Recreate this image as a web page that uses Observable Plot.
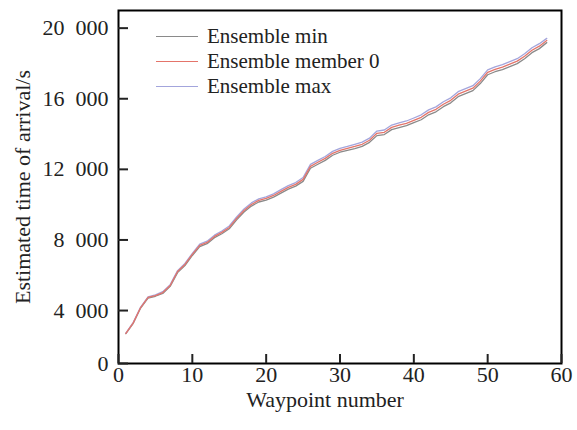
<!DOCTYPE html>
<html>
<head>
<meta charset="utf-8">
<script src="https://cdn.jsdelivr.net/npm/d3@7"></script>
<script src="https://cdn.jsdelivr.net/npm/@observablehq/plot@0.6"></script>
<style>
  html, body { margin: 0; padding: 0; background: #fff; }
  #wrap { position: relative; width: 577px; height: 430px; font-family: "Liberation Serif", serif; }
  #legend { position: absolute; left: 156px; top: 24px; font-size: 21px; color: #222; }
  #legend .row { display: flex; align-items: center; height: 25px; }
  #legend .sw { width: 42px; height: 0; border-top: 1.5px solid; margin-right: 9px; }
</style>
</head>
<body>
<div id="wrap"><div id="legend"></div></div>
<script>
// Waypoint index 1..58
const waypoints = d3.range(1, 59);

// Estimated time of arrival (s) per waypoint
const ensembleMin = [2690,3280,4140,4700,4810,4970,5370,6150,6550,7120,7620,7790,8130,8350,8630,9140,9580,9920,10150,10260,10430,10650,10880,11050,11320,12060,12290,12510,12800,12970,13080,13180,13300,13530,13910,13970,14250,14370,14480,14650,14810,15090,15260,15550,15770,16120,16290,16460,16860,17360,17530,17650,17820,17990,18270,18610,18840,19180];
const ensembleMember0 = [2700,3300,4170,4740,4850,5020,5420,6210,6610,7180,7690,7860,8200,8430,8710,9220,9670,10010,10240,10350,10520,10750,10980,11150,11430,12170,12400,12620,12910,13080,13190,13300,13420,13650,14040,14100,14380,14500,14610,14780,14950,15230,15400,15690,15910,16260,16430,16600,17000,17500,17670,17790,17960,18130,18410,18750,18980,19300];
const ensembleMax = [2720,3330,4200,4780,4890,5070,5470,6260,6670,7240,7760,7930,8270,8510,8790,9300,9760,10100,10330,10440,10610,10850,11080,11250,11540,12280,12510,12730,13020,13190,13300,13420,13540,13770,14170,14230,14510,14630,14740,14910,15090,15370,15540,15830,16050,16400,16570,16740,17140,17640,17810,17930,18100,18270,18550,18890,19120,19420];

const seriesNames = ["Ensemble min", "Ensemble member 0", "Ensemble max"];
const seriesColors = ["#8a8a8a", "#e4746a", "#a3a5dc"];
const seriesValues = [ensembleMin, ensembleMember0, ensembleMax];

const xTicks = [0, 10, 20, 30, 40, 50, 60];
const yTicks = [1000, 4000, 8000, 12000, 16000, 20000];
const yTickLabels = ["0", "4\u2002000", "8\u2002000", "12\u2002000", "16\u2002000", "20\u2002000"];
const xTitle = "Waypoint number";
const yTitle = "Estimated time of arrival/s";

const rows = seriesNames.flatMap((name, i) =>
  waypoints.map((w, j) => ({series: name, waypoint: w, eta: seriesValues[i][j]}))
);
// draw order: min, max, then member 0 on top
const drawOrder = [0, 2, 1];

const chart = Plot.plot({
  width: 577,
  height: 430,
  marginLeft: 118,
  marginRight: 16,
  marginTop: 10,
  marginBottom: 67,
  style: {fontFamily: "Liberation Serif, serif", fontSize: "22px", color: "#222", background: "transparent"},
  x: {domain: [0, 60]},
  y: {domain: [1000, 21000]},
  color: {domain: seriesNames, range: seriesColors},
  marks: [
    ...drawOrder.map(i => Plot.lineY(rows.filter(r => r.series === seriesNames[i]), {
      x: "waypoint", y: "eta", stroke: "series", strokeWidth: 1.3
    })),
    Plot.frame({stroke: "#000", strokeWidth: 2}),
    Plot.axisX({ticks: xTicks, tickSize: -9, tickPadding: 12, strokeWidth: 2, label: null}),
    // x-axis title, sitting a little left of the frame centre
    Plot.text([xTitle], {frameAnchor: "bottom", lineAnchor: "top", dy: 28, dx: -15, fontSize: 22, fill: "#222"}),
    Plot.axisY({ticks: yTicks, tickFormat: (d) => yTickLabels[yTicks.indexOf(d)], tickSize: -10, tickPadding: 20,
      strokeWidth: 2, label: yTitle, labelAnchor: "center", labelOffset: 104, labelArrow: "none"})
  ]
});

document.getElementById("wrap").prepend(chart);

const legend = document.getElementById("legend");
seriesNames.forEach((name, i) => {
  const row = document.createElement("div");
  row.className = "row";
  const sw = document.createElement("span");
  sw.className = "sw";
  sw.style.borderColor = seriesColors[i];
  const label = document.createElement("span");
  label.textContent = name;
  row.append(sw, label);
  legend.append(row);
});
</script>
</body>
</html>
